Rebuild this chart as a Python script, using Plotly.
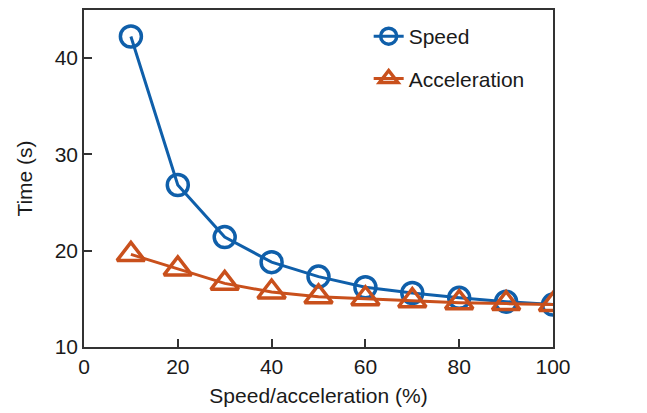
import plotly.graph_objects as go

x_pct = [10, 20, 30, 40, 50, 60, 70, 80, 90, 100]
speed_time = [42.2, 26.8, 21.4, 18.8, 17.3, 16.2, 15.6, 15.1, 14.7, 14.4]
accel_time = [19.6, 18.1, 16.6, 15.7, 15.2, 15.0, 14.8, 14.6, 14.5, 14.4]
x_ticks = [0, 20, 40, 60, 80, 100]
y_ticks = [10, 20, 30, 40]

BLUE = "#0F5FAA"
ORANGE = "#C9501C"
FONT = "Liberation Sans, Arial, sans-serif"
TXT = "#1a1a1a"

fig = go.Figure()
fig.add_trace(go.Scatter(
    x=x_pct, y=speed_time, name="Speed", mode="lines+markers",
    line=dict(color=BLUE, width=3),
    marker=dict(symbol="circle-open", size=21, color=BLUE, line=dict(width=3.5, color=BLUE)),
    legendgroup="a",
))
fig.add_trace(go.Scatter(
    x=x_pct, y=accel_time, name="Acceleration", mode="lines+markers",
    line=dict(color=ORANGE, width=3),
    marker=dict(symbol="triangle-up-open", size=24, color=ORANGE, line=dict(width=3.5, color=ORANGE)),
    legendgroup="b",
))

axis_common = dict(
    showline=True, linecolor="#333333", linewidth=1.5, mirror=True,
    ticks="inside", ticklen=8, tickcolor="#333333", tickwidth=1.5,
    showgrid=False, zeroline=False,
    tickfont=dict(family=FONT, size=21, color=TXT),
)

fig.update_layout(
    width=639, height=405,
    margin=dict(l=76, r=94, t=0, b=66),
    paper_bgcolor="white", plot_bgcolor="white",
    font=dict(family=FONT, size=21, color=TXT),
    xaxis=dict(range=[0, 100], tickvals=x_ticks,
               title=dict(text="Speed/acceleration (%)", font=dict(family=FONT, size=21, color=TXT), standoff=11),
               **axis_common),
    yaxis=dict(range=[10, 44.95], tickvals=y_ticks,
               title=dict(text="Time (s)", font=dict(family=FONT, size=21, color=TXT), standoff=16),
               **axis_common),
    legend=dict(x=0.607, y=0.982, xanchor="left", yanchor="top",
                bgcolor="rgba(0,0,0,0)", font=dict(family=FONT, size=21, color=TXT),
                traceorder="grouped", tracegroupgap=12, itemwidth=30),
    showlegend=True,
)

fig.write_html("out.html")
